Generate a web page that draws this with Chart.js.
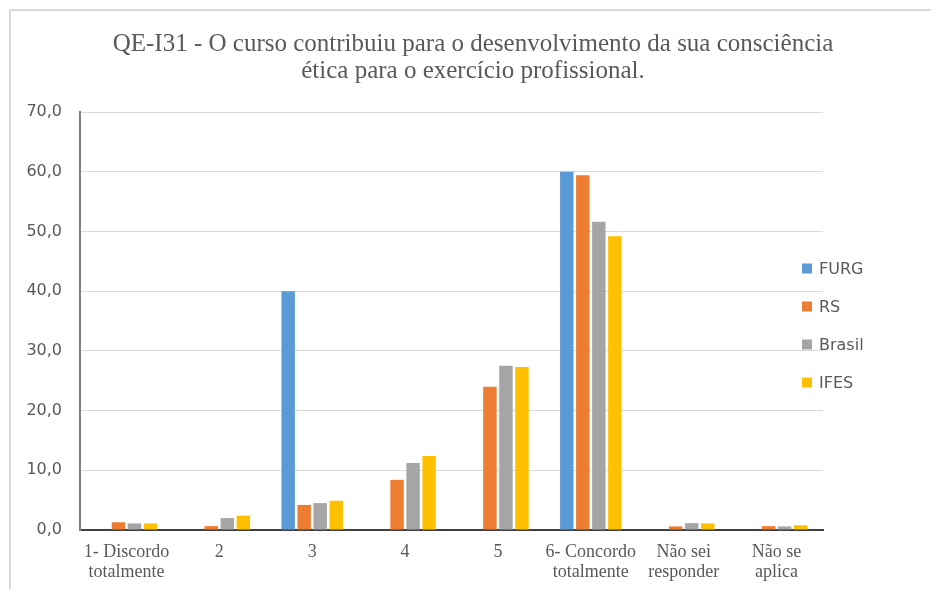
<!DOCTYPE html>
<html><head><meta charset="utf-8">
<script src="https://cdn.jsdelivr.net/npm/chart.js@4.4.0/dist/chart.umd.min.js"></script>
<style>html,body{margin:0;padding:0;background:#fff}#wrap{width:931px;height:589px;position:relative}</style>
</head><body><div id="wrap"><canvas id="c" width="931" height="589"></canvas></div>
<script>
const titleLines = ['QE-I31 - O curso contribuiu para o desenvolvimento da sua consciência', 'ética para o exercício profissional.'];
const categories = [['1- Discordo','totalmente'], '2', '3', '4', '5', ['6- Concordo','totalmente'], ['Não sei','responder'], ['Não se','aplica']];
const seriesNames = ['FURG', 'RS', 'Brasil', 'IFES'];
const furg   = [0,   0,    40.0, 0,    0,    60.0, 0,    0];
const rs     = [1.3, 0.65, 4.2,  8.4,  24.0, 59.4, 0.6,  0.65];
const brasil = [1.1, 2.0,  4.5,  11.2, 27.5, 51.6, 1.15, 0.6];
const ifes   = [1.1, 2.4,  4.9,  12.4, 27.3, 49.2, 1.1,  0.8];
const yTickLabels = ['0,0','10,0','20,0','30,0','40,0','50,0','60,0','70,0'];
const seriesColors = ['#5B9BD5', '#ED7D31', '#A5A5A5', '#FFC000'];

const decor = {
  id: 'decor',
  beforeDraw(chart) {
    const ctx = chart.ctx;
    ctx.save();
    ctx.fillStyle = '#fff';
    ctx.fillRect(0, 0, chart.width, chart.height);
    ctx.strokeStyle = '#D9D9D9';
    ctx.lineWidth = 2;
    ctx.beginPath();
    ctx.moveTo(10, chart.height);
    ctx.lineTo(10, 10);
    ctx.lineTo(chart.width, 10);
    ctx.stroke();
    ctx.restore();
  },
  afterDraw(chart) {
    const ctx = chart.ctx;
    ctx.save();
    ctx.fillStyle = '#595959';
    ctx.font = '25px "Liberation Serif"';
    ctx.textAlign = 'center';
    ctx.textBaseline = 'alphabetic';
    titleLines.forEach((t, i) => ctx.fillText(t, 473, 51 + i * 27));
    ctx.font = '16px "DejaVu Sans"';
    ctx.textAlign = 'left';
    ctx.textBaseline = 'middle';
    chart.data.datasets.forEach((ds, i) => {
      const cy = 268.5 + i * 38;
      ctx.fillStyle = ds.backgroundColor;
      ctx.fillRect(802, cy - 5, 10, 10);
      ctx.fillStyle = '#595959';
      ctx.fillText(ds.label, 819, cy + 1);
    });
    ctx.restore();
  }
};

const seriesData = [furg, rs, brasil, ifes];
new Chart(document.getElementById('c'), {
  type: 'bar',
  data: {
    labels: categories,
    datasets: seriesNames.map((n, i) => ({
      label: n,
      data: seriesData[i],
      backgroundColor: seriesColors[i],
      borderWidth: 0,
      categoryPercentage: 0.69,
      barPercentage: 0.84
    }))
  },
  options: {
    responsive: false,
    animation: false,
    devicePixelRatio: 1,
    layout: { padding: { top: 112, right: 108, left: 0, bottom: 0 } },
    plugins: { legend: { display: false }, title: { display: false }, tooltip: { enabled: false } },
    scales: {
      x: {
        grid: { display: false, drawTicks: false },
        border: { display: true, color: '#404040', width: 2 },
        ticks: {
          autoSkip: false, maxRotation: 0, minRotation: 0, padding: 12,
          color: '#595959',
          font: { family: '"Liberation Serif"', size: 18, lineHeight: 1.11 }
        },
        afterFit(s) { s.height = 59; }
      },
      y: {
        min: 0, max: 70,
        grid: { color: '#D9D9D9', lineWidth: 1, drawTicks: false },
        border: { display: true, color: '#7F7F7F', width: 2 },
        ticks: {
          stepSize: 10, padding: 18, color: '#595959',
          font: { family: '"DejaVu Sans"', size: 16 },
          callback: (v, i) => yTickLabels[i]
        },
        afterFit(s) { s.width = 80; }
      }
    }
  },
  plugins: [decor]
});
</script>
</body></html>
